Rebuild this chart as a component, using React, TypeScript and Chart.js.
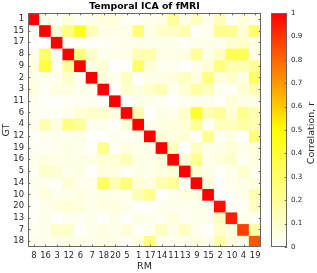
import React, { useEffect, useRef } from 'react';
import { Chart, registerables } from 'chart.js';

Chart.register(...registerables);

const colLabels = ['8', '16', '3', '12', '6', '7', '18', '20', '5', '1', '17', '14', '11', '13', '9', '15', '2', '10', '4', '19'];
const rowLabels = ['1', '15', '17', '8', '9', '2', '3', '11', '6', '4', '12', '19', '16', '5', '14', '10', '20', '13', '7', '18'];

const r01 = [1, 0.05, 0.02, 0.07, 0.01, 0.05, 0.07, 0.07, 0.02, 0.02, 0.04, 0.05, 0.2, 0.05, 0.13, 0.04, 0.14, 0.01, 0.07, 0.03];
const r02 = [0.02, 1, 0.08, 0.25, 0.45, 0.14, 0.05, 0.05, 0.05, 0.26, 0.05, 0.11, 0.11, 0.16, 0.01, 0.04, 0.22, 0.22, 0.08, 0.28];
const r03 = [0.0, 0.0, 1, 0.02, 0.01, 0.01, 0.02, 0.03, 0.04, 0.04, 0.04, 0.04, 0.04, 0.02, 0.04, 0.04, 0.03, 0.08, 0.1, 0.05];
const r04 = [0.04, 0.3, 0.01, 1, 0.25, 0.1, 0.04, 0.04, 0.04, 0.15, 0.16, 0.05, 0.05, 0.06, 0.2, 0.05, 0.12, 0.33, 0.33, 0.05];
const r05 = [0.06, 0.38, 0.03, 0.2, 1, 0.05, 0.08, 0.0, 0.01, 0.3, 0.08, 0.03, 0.03, 0.0, 0.04, 0.08, 0.25, 0.15, 0.15, 0.2];
const r06 = [0.05, 0.04, 0.04, 0.1, 0.03, 1, 0.06, 0.04, 0.12, 0.0, 0.05, 0.05, 0.06, 0.12, 0.06, 0.25, 0.06, 0.1, 0.05, 0.3];
const r07 = [0.06, 0.02, 0.06, 0.06, 0.04, 0.03, 1, 0.0, 0.1, 0.06, 0.1, 0.15, 0.04, 0.08, 0.18, 0.13, 0.03, 0.02, 0.08, 0.15];
const r08 = [0.04, 0.01, 0.01, 0.02, 0.03, 0.03, 0.0, 1, 0.0, 0.04, 0.04, 0.03, 0.0, 0.03, 0.04, 0.04, 0.02, 0.08, 0.05, 0.05];
const r09 = [0.03, 0.02, 0.02, 0.04, 0.08, 0.1, 0.1, 0.06, 1, 0.15, 0.0, 0.05, 0.04, 0.1, 0.42, 0.15, 0.2, 0.08, 0.22, 0.15];
const r10 = [0.04, 0.15, 0.06, 0.25, 0.2, 0.04, 0.04, 0.01, 0.08, 1, 0.04, 0.05, 0.06, 0.08, 0.2, 0.02, 0.12, 0.12, 0.18, 0.15];
const r11 = [0.01, 0.03, 0.04, 0.04, 0.05, 0.01, 0.0, 0.04, 0.02, 0.04, 1, 0.08, 0.06, 0.08, 0.01, 0.22, 0.02, 0.05, 0.0, 0.25];
const r12 = [0.02, 0.02, 0.04, 0.05, 0.04, 0.01, 0.22, 0.02, 0.06, 0.04, 0.04, 1, 0.12, 0.0, 0.12, 0.04, 0.05, 0.08, 0.04, 0.06];
const r13 = [0.04, 0.06, 0.05, 0.05, 0.05, 0.05, 0.08, 0.08, 0.15, 0.05, 0.04, 0.06, 1, 0.08, 0.22, 0.04, 0.06, 0.1, 0.02, 0.06];
const r14 = [0.03, 0.1, 0.08, 0.04, 0.05, 0.0, 0.06, 0.06, 0.02, 0.05, 0.04, 0.06, 0.08, 1, 0.08, 0.05, 0.02, 0.04, 0.1, 0.03];
const r15 = [0.03, 0.04, 0.02, 0.08, 0.04, 0.04, 0.3, 0.15, 0.25, 0.08, 0.06, 0.15, 0.2, 0.02, 1, 0.06, 0.01, 0.04, 0.05, 0.06];
const r16 = [0.03, 0.06, 0.04, 0.04, 0.06, 0.04, 0.05, 0.05, 0.04, 0.15, 0.22, 0.0, 0.04, 0.06, 0.06, 1, 0.0, 0.02, 0.04, 0.15];
const r17 = [0.02, 0.04, 0.06, 0.08, 0.06, 0.04, 0.06, 0.06, 0.04, 0.0, 0.01, 0.04, 0.04, 0.03, 0.04, 0.03, 0.97, 0.02, 0.02, 0.12];
const r18 = [0.01, 0.04, 0.0, 0.03, 0.03, 0.04, 0.0, 0.05, 0.01, 0.05, 0.04, 0.03, 0.06, 0.03, 0.04, 0.04, 0.12, 0.94, 0.05, 0.02];
const r19 = [0.03, 0.04, 0.1, 0.1, 0.01, 0.04, 0.06, 0.04, 0.08, 0.02, 0.03, 0.12, 0.05, 0.12, 0.04, 0.01, 0.1, 0.06, 0.88, 0.18];
const r20 = [0.04, 0.04, 0.04, 0.05, 0.05, 0.04, 0.05, 0.05, 0.02, 0.06, 0.25, 0.04, 0.04, 0.04, 0.06, 0.04, 0.18, 0.06, 0.04, 0.83];
const corr = [r01, r02, r03, r04, r05, r06, r07, r08, r09, r10, r11, r12, r13, r14, r15, r16, r17, r18, r19, r20];

const cbTicks = [0, 0.1, 0.2, 0.3, 0.4, 0.5, 0.6, 0.7, 0.8, 0.9, 1];

const TXT = '#262626';
const FAM = 'DejaVu Sans';

function colorFor(v: number): string {
  const x = Math.max(0, Math.min(1, v));
  if (x <= 0.5) {
    return `rgb(255,255,${Math.round(255 * (1 - 2 * x))})`;
  }
  return `rgb(255,${Math.round(255 * (2 - 2 * x))},0)`;
}

const frameTicks = {
  id: 'frameTicks',
  afterDatasetsDraw(chart: any, _args: any, opts: any) {
    const { ctx, chartArea } = chart;
    const { left, right, top, bottom } = chartArea;
    const len = 2.3;
    ctx.save();
    ctx.strokeStyle = opts.color || '#555';
    ctx.lineWidth = 1;
    ctx.beginPath();
    const xs = chart.scales[opts.xId];
    if (xs && opts.xTicks) {
      xs.ticks.forEach((_t: any, i: number) => {
        const px = Math.round(xs.getPixelForTick(i)) + 0.5;
        ctx.moveTo(px, bottom);
        ctx.lineTo(px, bottom - len);
        ctx.moveTo(px, top);
        ctx.lineTo(px, top + len);
      });
    }
    const ys = chart.scales[opts.yId];
    if (ys) {
      ys.ticks.forEach((t: any) => {
        const py = Math.round(ys.getPixelForValue(t.value)) + 0.5;
        if (opts.yLeft) {
          ctx.moveTo(left, py);
          ctx.lineTo(left + len, py);
        }
        ctx.moveTo(right, py);
        ctx.lineTo(right - len, py);
      });
    }
    ctx.stroke();
    ctx.strokeRect(Math.round(left) + 0.5, Math.round(top) + 0.5, Math.round(right - left) - 1, Math.round(bottom - top) - 1);
    ctx.restore();
  },
};

const cbTitle = {
  id: 'cbTitle',
  afterDraw(chart: any, _args: any, opts: any) {
    const { ctx } = chart;
    ctx.save();
    ctx.translate(opts.x, opts.y);
    ctx.rotate(-Math.PI / 2);
    ctx.font = `9.5px "${FAM}"`;
    ctx.fillStyle = TXT;
    ctx.textAlign = 'center';
    ctx.textBaseline = 'middle';
    ctx.fillText(opts.text, 0, 0);
    ctx.restore();
  },
};

export default function App() {
  const mainRef = useRef<HTMLCanvasElement | null>(null);
  const cbRef = useRef<HTMLCanvasElement | null>(null);

  useEffect(() => {
    const tickFont = { family: FAM, size: 8.4 };
    const labelFont = { family: FAM, size: 9.5 };
    const main = new Chart(mainRef.current as HTMLCanvasElement, {
      type: 'bar',
      data: {
        labels: colLabels,
        datasets: corr.map((row, r) => ({
          label: rowLabels[r],
          data: colLabels.map(() => [19 - r, 20 - r]),
          backgroundColor: row.map(colorFor),
          borderWidth: 0,
          barPercentage: 1,
          categoryPercentage: 1,
          grouped: false,
          inflateAmount: 0.5,
        })) as any,
      },
      options: {
        animation: false,
        responsive: false,
        devicePixelRatio: 1,
        layout: { padding: { left: 0, right: 56, top: 0, bottom: 0 } },
        plugins: {
          legend: { display: false },
          tooltip: { enabled: false },
          frameTicks: { xId: 'x', yId: 'y', xTicks: true, yLeft: true, color: '#666' },
        } as any,
        scales: {
          x: {
            type: 'category',
            position: 'bottom',
            offset: true,
            grid: { display: false, drawTicks: false },
            border: { display: false },
            ticks: { autoSkip: false, maxRotation: 0, minRotation: 0, padding: 4, font: tickFont, color: TXT },
            title: { display: true, text: 'RM', font: labelFont, color: TXT, padding: { top: 0, bottom: 1 } },
            afterFit: (s: any) => { s.height = 26; },
          },
          xTop: {
            type: 'category',
            position: 'top',
            offset: true,
            grid: { display: false, drawTicks: false },
            border: { display: false },
            ticks: { display: false },
            title: { display: true, text: 'Temporal ICA of fMRI', font: { family: FAM, size: 9.4, weight: 'bold' }, color: '#000', padding: { top: 1, bottom: 0 } },
            afterFit: (s: any) => { s.height = 13; },
          },
          y: {
            type: 'linear',
            min: 0,
            max: 20,
            grid: { display: false, drawTicks: false },
            border: { display: false },
            afterBuildTicks: (s: any) => { s.ticks = rowLabels.map((_l, i) => ({ value: 19.5 - i })); },
            ticks: {
              autoSkip: false,
              padding: 4,
              font: tickFont,
              color: TXT,
              callback: (v: any) => rowLabels[Math.round(19.5 - Number(v))],
            },
            title: { display: true, text: 'GT', font: labelFont, color: TXT, padding: { top: 1, bottom: 0 } },
            afterFit: (s: any) => { s.width = 28; },
          },
        } as any,
      },
      plugins: [frameTicks],
    });

    const cb = new Chart(cbRef.current as HTMLCanvasElement, {
      type: 'bar',
      data: {
        labels: ['r'],
        datasets: [{
          data: [[0, 1]] as any,
          borderWidth: 0,
          barPercentage: 1,
          categoryPercentage: 1,
          backgroundColor: (ctx: any) => {
            const area = ctx.chart.chartArea;
            if (!area) return '#fff';
            const g = ctx.chart.ctx.createLinearGradient(0, area.bottom, 0, area.top);
            g.addColorStop(0, colorFor(0));
            g.addColorStop(0.5, colorFor(0.5));
            g.addColorStop(1, colorFor(1));
            return g;
          },
        }],
      },
      options: {
        animation: false,
        responsive: false,
        devicePixelRatio: 1,
        layout: { padding: { left: 9, right: 0, top: 13, bottom: 26 } },
        plugins: {
          legend: { display: false },
          tooltip: { enabled: false },
          frameTicks: { xId: 'x', yId: 'y', xTicks: false, yLeft: false, color: '#666' },
          cbTitle: { x: 50, y: 133, text: 'Correlation, r' },
        } as any,
        scales: {
          x: { display: false, offset: true },
          y: {
            type: 'linear',
            position: 'right',
            min: 0,
            max: 1,
            grid: { display: false, drawTicks: false },
            border: { display: false },
            afterBuildTicks: (s: any) => { s.ticks = cbTicks.map((v) => ({ value: v })); },
            ticks: {
              autoSkip: false,
              padding: 4,
              font: { family: FAM, size: 7.2 },
              color: TXT,
              callback: (v: any) => String(Number(Number(v).toFixed(1))),
            },
            afterFit: (s: any) => { s.width = 30; },
          },
        } as any,
      },
      plugins: [frameTicks, cbTitle],
    });

    return () => {
      main.destroy();
      cb.destroy();
    };
  }, []);

  return (
    <div style={{ position: 'absolute', left: 0, top: 0, width: 317, height: 273, background: '#fff' }}>
      <canvas ref={mainRef} width={317} height={273} style={{ position: 'absolute', left: 0, top: 0, width: 317, height: 273 }} />
      <canvas ref={cbRef} width={55} height={273} style={{ position: 'absolute', left: 262, top: 0, width: 55, height: 273 }} />
    </div>
  );
}
